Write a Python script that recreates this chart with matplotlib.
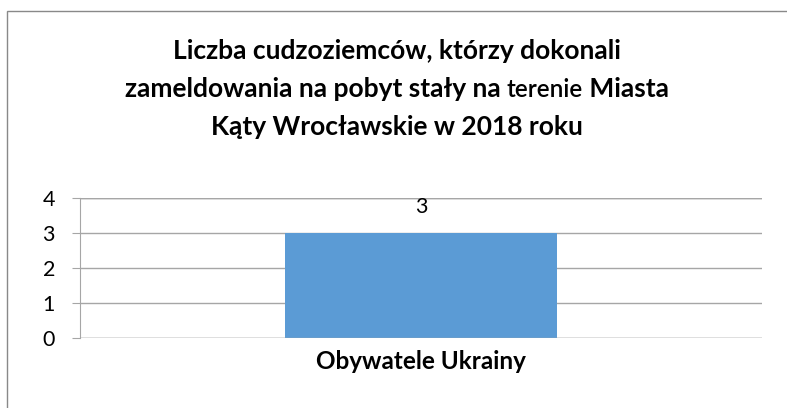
import matplotlib
matplotlib.use("Agg")
import matplotlib.pyplot as plt
from matplotlib.patches import Rectangle

categories = ["Obywatele Ukrainy"]
values = [3]
yticks = [0, 1, 2, 3, 4]
title_l1 = "Liczba cudzoziemców, którzy dokonali"
title_l2 = ["zameldowania na pobyt stały na ", "terenie", " Miasta"]
title_l3 = "Kąty Wrocławskie w 2018 roku"

W, H = 787, 408
fig = plt.figure(figsize=(W / 100, H / 100), dpi=100)
fig.patch.set_facecolor("white")
FONT = "Lato"

# outer chart border (left/top visible)
fig.add_artist(Rectangle((7 / W, -0.05), 1.2, (H - 11) / H + 0.05, transform=fig.transFigure,
                         fill=False, edgecolor="#898989", linewidth=1.0))

x0, x1, ytop, ybot = 80, 762, 198, 338
ax = fig.add_axes([x0 / W, (H - ybot) / H, (x1 - x0) / W, (ybot - ytop) / H])
ax.bar(range(len(categories)), values, width=0.4, color="#5B9BD5", zorder=3)
ax.set_xlim(-0.5, len(categories) - 0.5)
ax.set_ylim(0, 4)
ax.set_yticks(yticks)
ax.set_yticklabels([str(t) for t in yticks], fontfamily=FONT, fontsize=15.5, color="black")
ax.set_xticks([])
ax.yaxis.grid(True, color="#A6A6A6", linewidth=1.0, zorder=0)
ax.axhline(4, color="#8C8C8C", linewidth=1.0, zorder=1)
for s in ["top", "right", "bottom"]:
    ax.spines[s].set_visible(False)
ax.spines["left"].set_color("#A6A6A6")
ax.axhline(0, color="#A6A6A6", linewidth=1.0, zorder=4)
ax.tick_params(axis="y", length=6, color="#A6A6A6", pad=12)
for i, v in enumerate(values):
    ax.annotate(str(v), (i, v), xytext=(0, 19), textcoords="offset points",
                ha="center", va="center", fontfamily=FONT, fontsize=15.5)
ax.text(0.5, -0.165, categories[0], transform=ax.transAxes, ha="center", va="center",
        fontfamily=FONT, fontweight="bold", fontsize=17.5)

# title
cx = 397 / W
TS = 19
fig.text(cx, 1 - 59 / H, title_l1, ha="center", va="baseline", fontfamily=FONT,
         fontweight="bold", fontsize=TS)
fig.text(cx, 1 - 135 / H, title_l3, ha="center", va="baseline", fontfamily=FONT,
         fontweight="bold", fontsize=TS)
# line 2 with mixed weights
fig.canvas.draw()
r = fig.canvas.get_renderer()
styles = [dict(fontweight="bold", fontsize=TS), dict(fontweight="semibold", fontsize=TS - 1.5),
          dict(fontweight="bold", fontsize=TS)]
pieces = []
for txt, st in zip(title_l2, styles):
    t = fig.text(0, 1 - 97 / H, txt, ha="left", va="baseline", fontfamily=FONT, **st)
    pieces.append(t)
widths = [p.get_window_extent(r).width for p in pieces]
total = sum(widths)
xpos = cx * W - total / 2
for p, w in zip(pieces, widths):
    p.set_x(xpos / W)
    xpos += w

fig.savefig("out.png", dpi=100)
